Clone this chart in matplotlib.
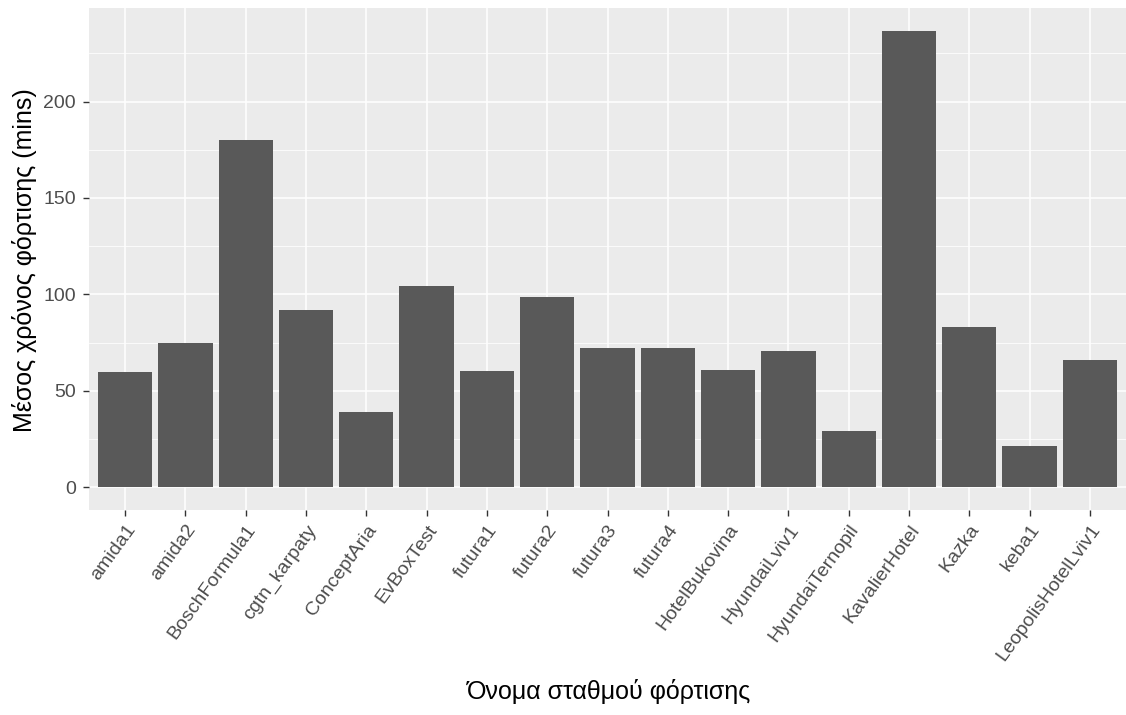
import numpy as np
import matplotlib.pyplot as plt

plt.rcParams['font.family'] = ['Liberation Sans', 'DejaVu Sans']

# data
stations = ['amida1', 'amida2', 'BoschFormula1', 'cgtn_karpaty', 'ConceptAria',
            'EvBoxTest', 'futura1', 'futura2', 'futura3', 'futura4',
            'HotelBukovina', 'HyundaiLviv1', 'HyundaiTernopil', 'KavalierHotel',
            'Kazka', 'keba1', 'LeopolisHotelLviv1']
mean_mins = [60, 74.6, 180.2, 91.8, 39, 104.6, 60.2, 98.5, 72.1, 72.1,
             60.7, 70.5, 29, 236.7, 83, 21.2, 66.2]
y_ticks = [0, 50, 100, 150, 200]

W, H = 1126, 715
fig = plt.figure(figsize=(W / 100, H / 100), dpi=100)
ax = fig.add_axes([89 / W, (H - 510) / H, (W - 89) / W, (510 - 8) / H])

x = np.arange(1, len(stations) + 1)
ax.bar(x, mean_mins, width=0.9, color='#595959', zorder=3)

# ggplot-like look
ax.set_facecolor('#EBEBEB')
for s in ax.spines.values():
    s.set_visible(False)
ymax = max(mean_mins)
ax.set_xlim(0.4, len(stations) + 0.6)
ax.set_ylim(-0.05 * ymax, 1.05 * ymax)
ax.set_yticks(y_ticks)
ax.set_yticks([25, 75, 125, 175, 225], minor=True)
ax.set_xticks(x)
ax.set_xticklabels(stations, rotation=54, ha='right', va='top',
                   rotation_mode='anchor')
ax.grid(which='major', color='white', linewidth=1.1, zorder=0)
ax.grid(which='minor', axis='y', color='white', linewidth=0.55, zorder=0)
ax.set_axisbelow(True)
ax.tick_params(which='major', length=4.3, width=1, color='#333333',
               labelcolor='#4D4D4D', labelsize=14)
ax.tick_params(axis='y', pad=5)
ax.tick_params(axis='x', pad=4)
ax.tick_params(which='minor', length=0)

# axis titles placed in figure pixels
fig.text(609 / W, 1 - 692 / H, 'Όνομα σταθμού φόρτισης', fontsize=18,
         ha='center', va='center', color='black')
fig.text(25 / W, 1 - 260 / H, 'Μέσος χρόνος φόρτισης (mins)', fontsize=18,
         rotation=90, ha='center', va='center', color='black')

fig.savefig('out.png', dpi=100)
